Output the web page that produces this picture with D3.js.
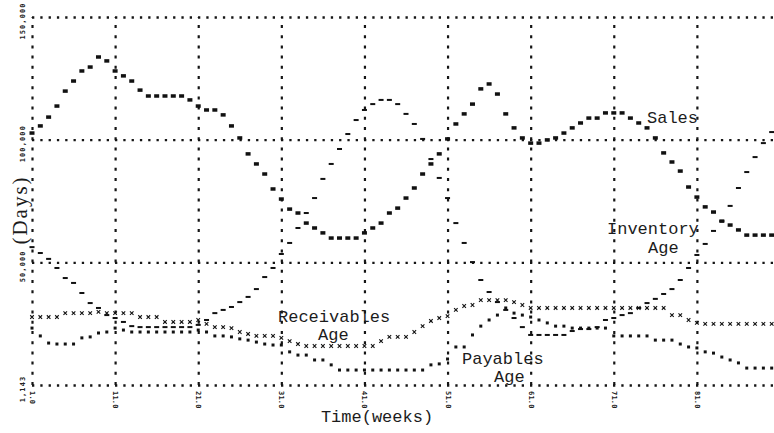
<!DOCTYPE html>
<html>
<head>
<meta charset="utf-8">
<script src="https://cdn.jsdelivr.net/npm/d3@7"></script>
<style>
  body { margin: 0; background: #fff; }
  svg { display: block; }
  .hgrid line { stroke: #151515; stroke-width: 2.3; stroke-dasharray: 2.3, 6; }
  .vgrid line { stroke: #151515; stroke-width: 2.2; stroke-dasharray: 3, 7.2; }
  .hgrid .domain, .vgrid .domain { display: none; }
  .tick-label { font-family: "DejaVu Sans Mono", monospace; font-weight: bold; font-size: 7px; fill: #222; }
  .note { font-family: "Liberation Mono", "Courier New", monospace; font-size: 17px; fill: #1c1c1c; }
</style>
</head>
<body>
<svg width="774" height="433"></svg>
<script>
// weekly values, week 1 .. 90 (sales in thousands, ages in days on the same printer scale)
var sales = [102.7, 105.6, 109.2, 113.7, 119.8, 123.9, 128.0, 129.6, 133.7, 132.1,
  128.0, 126.0, 123.9, 120.2, 117.8, 117.8, 117.8, 117.8, 117.8, 116.2,
  113.7, 112.1, 112.1, 110.1, 105.6, 100.7, 94.2, 90.1, 86.0, 79.9,
  75.8, 71.7, 70.1, 66.0, 64.0, 62.0, 59.9, 59.9, 59.9, 59.9,
  62.0, 64.0, 66.0, 70.1, 72.1, 76.2, 80.3, 86.0, 90.1, 94.2,
  100.3, 106.4, 110.5, 114.5, 120.7, 122.7, 118.6, 110.5, 104.8, 100.7,
  98.6, 98.6, 99.9, 100.7, 102.7, 104.8, 106.8, 108.8, 108.8, 110.9,
  110.9, 110.9, 108.8, 106.8, 104.8, 100.7, 94.6, 90.9, 87.2, 80.7,
  76.6, 72.6, 70.5, 66.8, 65.2, 63.2, 61.1, 61.1, 61.1, 61.1];

var inventoryAge = [56.2, 53.8, 51.4, 47.7, 43.6, 41.6, 37.5, 33.4, 31.4, 28.5,
  27.3, 25.7, 24.0, 23.6, 23.6, 23.6, 23.6, 23.6, 23.6, 23.6,
  24.5, 26.5, 29.3, 30.6, 31.8, 33.8, 35.9, 39.1, 44.0, 47.7,
  53.4, 57.9, 64.0, 70.1, 76.2, 84.0, 90.1, 96.2, 102.3, 108.0,
  112.1, 114.5, 116.2, 116.2, 114.5, 110.5, 106.4, 100.3, 92.1, 84.4,
  76.2, 66.0, 57.9, 50.1, 42.8, 37.9, 33.8, 30.6, 27.3, 23.6,
  20.4, 20.4, 20.4, 20.4, 20.4, 22.0, 22.8, 22.8, 23.6, 26.5,
  27.3, 28.5, 29.3, 31.4, 33.4, 35.1, 37.1, 39.1, 42.8, 47.7,
  53.0, 57.5, 62.8, 66.8, 73.0, 80.3, 86.8, 92.9, 98.6, 103.1];

var receivablesAge = [27.7, 27.7, 27.7, 27.7, 29.3, 29.3, 29.3, 29.3, 29.8, 29.3,
  29.3, 29.3, 29.3, 27.7, 27.7, 27.7, 25.7, 25.7, 25.7, 25.7,
  26.5, 24.9, 23.6, 23.6, 23.2, 21.6, 20.8, 20.0, 20.0, 20.0,
  19.2, 17.9, 16.7, 15.9, 15.9, 15.9, 15.9, 15.9, 15.9, 15.9,
  15.9, 15.9, 17.9, 19.6, 19.6, 19.6, 21.6, 24.0, 26.1, 27.3,
  28.1, 30.6, 32.2, 32.6, 34.6, 34.6, 34.6, 34.6, 33.8, 32.6,
  31.4, 31.4, 31.4, 31.4, 31.4, 31.4, 31.4, 31.4, 31.4, 31.4,
  31.4, 31.4, 31.4, 31.4, 31.4, 31.4, 31.4, 28.5, 28.5, 26.5,
  25.3, 24.9, 24.9, 24.9, 24.9, 24.9, 24.9, 24.9, 24.9, 24.9];

var payablesAge = [23.2, 20.0, 17.1, 16.7, 16.7, 16.7, 19.2, 19.6, 21.2, 21.6,
  23.2, 22.4, 21.6, 21.6, 21.6, 21.6, 21.6, 21.6, 21.6, 21.6,
  22.4, 21.6, 20.0, 20.0, 19.6, 18.8, 18.3, 17.5, 16.7, 16.3,
  16.3, 13.5, 12.2, 12.2, 10.2, 10.2, 8.2, 6.1, 6.1, 6.1,
  6.1, 6.1, 6.1, 6.1, 6.1, 6.1, 6.1, 6.1, 8.2, 8.6,
  10.6, 15.5, 15.5, 20.4, 24.0, 26.5, 28.5, 31.4, 29.3, 28.5,
  27.7, 26.5, 25.3, 24.0, 24.0, 23.2, 23.2, 23.2, 23.2, 23.2,
  20.0, 20.0, 20.0, 20.0, 20.0, 18.3, 18.3, 18.3, 16.7, 15.5,
  15.1, 13.5, 13.0, 11.4, 10.2, 9.0, 6.9, 6.9, 6.9, 6.9];

var xTicks = [1, 11, 21, 31, 41, 51, 61, 71, 81];
var xTickLabels = ["1.0", "11.0", "21.0", "31.0", "41.0", "51.0", "61.0", "71.0", "81.0"];
var yTicks = [0, 50, 100, 150];
var yTickLabels = ["1,143", "50,000", "100,000", "150,000"];

var width = 774;
var height = 433;
var svg = d3.select("svg");

var x = d3.scaleLinear().domain([1, 91]).range([32, 780]);
var y = d3.scaleLinear().domain([0, 150]).range([385, 17]);

// dotted grid, printer style
svg.append("g")
  .attr("class", "hgrid")
  .attr("transform", "translate(" + x(1) + ",0)")
  .call(d3.axisLeft(y).tickValues(yTicks).tickSize(-(width - x(1))).tickFormat(""));

svg.append("g")
  .attr("class", "vgrid")
  .attr("transform", "translate(0," + y(0) + ")")
  .call(d3.axisBottom(x).tickValues(xTicks).tickSize(-(y(0) - y(150))).tickFormat(""));

// rotated tick labels
svg.selectAll("text.xl")
  .data(xTicks)
  .enter()
  .append("text")
  .attr("class", "tick-label xl")
  .attr("letter-spacing", 0.2)
  .attr("transform", function(d) { return "translate(" + (x(d) - 2) + ",391) rotate(90)"; })
  .text(function(d, i) { return xTickLabels[i]; });

svg.selectAll("text.yl")
  .data(yTicks)
  .enter()
  .append("text")
  .attr("class", "tick-label yl")
  .attr("text-anchor", "middle")
  .attr("letter-spacing", 1.1)
  .attr("transform", function(d) { return "translate(25," + (y(d) + 4) + ") rotate(-90)"; })
  .text(function(d, i) { return yTickLabels[i]; });

// series, one small printed mark per week
function plotSeries(data, symbol, size) {
  svg.append("g")
    .selectAll("path")
    .data(data)
    .enter()
    .append("path")
    .attr("d", d3.symbol().type(symbol).size(size))
    .attr("transform", function(d, i) { return "translate(" + x(i + 1) + "," + y(d) + ")"; })
    .attr("fill", "#121212")
    .attr("stroke", "#121212")
    .attr("stroke-width", symbol === d3.symbolTimes ? 1.1 : 0);
}

// sales and inventory look like wide blobs and dashes
svg.append("g")
  .selectAll("rect")
  .data(sales)
  .enter()
  .append("rect")
  .attr("x", function(d, i) { return x(i + 1) - 2.5; })
  .attr("y", function(d) { return y(d) - 1.75; })
  .attr("width", 5)
  .attr("height", 3.5)
  .attr("fill", "#111");

svg.append("g")
  .selectAll("rect")
  .data(inventoryAge)
  .enter()
  .append("rect")
  .attr("x", function(d, i) { return x(i + 1) - 2.5; })
  .attr("y", function(d) { return y(d) - 1; })
  .attr("width", 5)
  .attr("height", 2)
  .attr("fill", "#111");

plotSeries(receivablesAge, d3.symbolTimes, 10);
plotSeries(payablesAge, d3.symbolSquare, 9);

// labels typed onto the plot
var notes = [
  { t: "Sales", x: 647, y: 123 },
  { t: "Inventory", x: 607, y: 234 },
  { t: "Age", x: 648, y: 253 },
  { t: "Receivables", x: 278, y: 322 },
  { t: "Age", x: 318, y: 340 },
  { t: "Payables", x: 462, y: 364 },
  { t: "Age", x: 494, y: 382 }
];
svg.selectAll("text.note")
  .data(notes)
  .enter()
  .append("text")
  .attr("class", "note")
  .attr("x", function(d) { return d.x; })
  .attr("y", function(d) { return d.y; })
  .text(function(d) { return d.t; });

svg.append("text")
  .attr("class", "note")
  .attr("text-anchor", "middle")
  .attr("x", 377)
  .attr("y", 422)
  .text("Time(weeks)");

svg.append("text")
  .attr("class", "note")
  .attr("text-anchor", "middle")
  .style("font-family", "'Liberation Serif', serif")
  .style("font-size", "21px")
  .attr("letter-spacing", 2)
  .attr("transform", "translate(27,210) rotate(-90)")
  .text("(Days)");
</script>
</body>
</html>
